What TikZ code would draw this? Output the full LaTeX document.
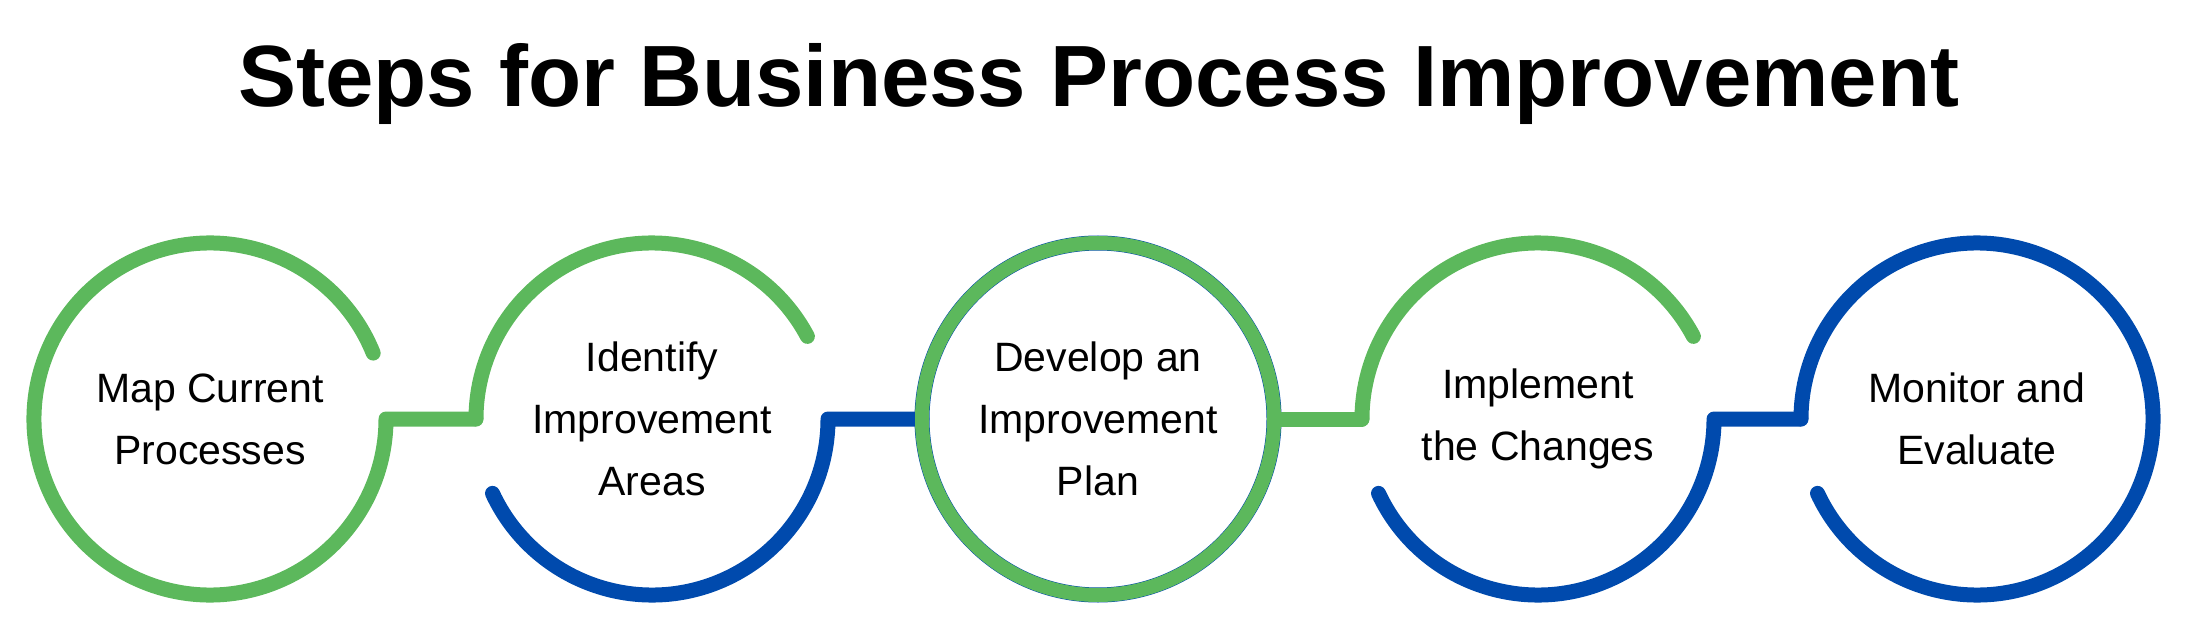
\documentclass[tikz,border=0pt]{standalone}
\usepackage{fontspec}
\setmainfont{Liberation Sans}
\begin{document}
\begin{tikzpicture}[x=1pt,y=1pt,
  ring/.style={circle,minimum size=352pt,inner sep=0pt,align=center,font=\fontsize{41}{62}\selectfont},
  garc/.style={draw=grn,line width=15pt,line cap=round,line join=round},
  barc/.style={draw=blu,line width=15pt,line cap=round,line join=round}]
\definecolor{grn}{HTML}{5CB85C}
\definecolor{blu}{HTML}{004AAD}
\useasboundingbox (0,0) rectangle (2199,627);
\node[font=\bfseries\fontsize{87}{95}\selectfont] (title) at (1099,543) {Steps for Business Process Improvement};
\node[ring] (c1) at (210,208) {Map Current\\Processes};
\node[ring] (c2) at (652,208) {Identify\\Improvement\\Areas};
\node[ring] (c3) at (1098,208) {Develop an\\Improvement\\Plan};
\node[ring] (c4) at (1538,208) {Implement\\the Changes};
\node[ring] (c5) at (1977,208) {Monitor and\\Evaluate};
% circle 1
\draw[garc] ([shift={(22:176)}]c1.center) arc[start angle=22,end angle=360,radius=176] -- (c2.west);
% circle 2
\draw[garc] ([shift={(28:176)}]c2.center) arc[start angle=28,end angle=180,radius=176];
\draw[barc] ([shift={(205:176)}]c2.center) arc[start angle=205,end angle=360,radius=176] -- (c3.west);
% circle 3
\draw[draw=blu,line width=15pt] (c3) circle[radius=176];
\draw[garc,line width=14pt] (c3) circle[radius=176];
\draw[garc] (c3.east) -- (c4.west);
% circle 4
\draw[garc] ([shift={(28:176)}]c4.center) arc[start angle=28,end angle=180,radius=176];
\draw[barc] ([shift={(205:176)}]c4.center) arc[start angle=205,end angle=360,radius=176] -- (c5.west);
% circle 5
\draw[barc] ([shift={(-155:176)}]c5.center) arc[start angle=-155,end angle=180,radius=176];
\end{tikzpicture}
\end{document}
